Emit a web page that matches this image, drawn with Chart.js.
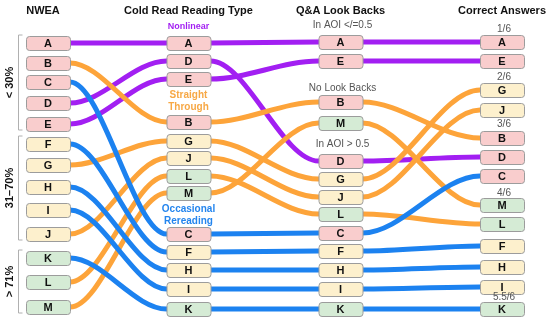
<!DOCTYPE html>
<html><head><meta charset="utf-8">
<script src="https://cdn.jsdelivr.net/npm/chart.js@4/dist/chart.umd.min.js"></script>
<style>html,body{margin:0;padding:0;background:#fff;}#c{display:block}</style>
</head><body>
<canvas id="c" width="550" height="321"></canvas>
<script>
// ---------- DATA ----------
const columns = ['NWEA', 'Cold Read Reading Type', 'Q&A Look Backs', 'Correct Answers'];
const students = ['A','B','C','D','E','F','G','H','I','J','K','L','M'];
const nweaBand = ['< 30%','< 30%','< 30%','< 30%','< 30%','31–70%','31–70%','31–70%','31–70%','31–70%','> 71%','> 71%','> 71%'];
const readingType = ['Nonlinear','Straight Through','Occasional Rereading','Nonlinear','Nonlinear','Occasional Rereading','Straight Through','Occasional Rereading','Occasional Rereading','Straight Through','Occasional Rereading','Straight Through','Straight Through'];
// vertical slot (row level) of each student in each column
const nweaRow     = [43, 63, 82,103,124,144,165,187,210,234,258,282,307];
const readingRow  = [43,122,234, 61, 79,252,141,270,289,158,309,176,193];
const lookBackRow = [42,102,233,161, 61,251,179,270,289,197,309,214,123];
const correctRow  = [42,138,176,157, 61,246, 90,267,287,110,309,224,205];
// group labels
const bandLabels = ['< 30%','31–70%','> 71%'];
const readingLabels = ['Nonlinear','Straight\nThrough','Occasional\nRereading'];
const readingLabelRow = [27, 95, 209];
const lookBackLabels = ['In AOI </=0.5','No Look Backs','In AOI > 0.5'];
const lookBackLabelRow = [25, 88, 144];
const correctLabels = ['1/6','2/6','3/6','4/6','5.5/6'];
const correctLabelRow = [29, 77, 124, 193, 297];

// ---------- STYLE / LAYOUT ----------
const colX = [48, 188.5, 340.5, 502];
const half = 22;
const typeColor = {'Nonlinear':'#a21ff2','Straight Through':'#fda43a','Occasional Rereading':'#1c82f0'};
const typeText = {'Nonlinear':'#a21ff2','Straight Through':'#f7a845','Occasional Rereading':'#2485ee'};
const bandFill = {'< 30%':'#f9cdcd','31–70%':'#fdf0cd','> 71%':'#d5ebd5'};
const rows = [nweaRow, readingRow, lookBackRow, correctRow];
const FONT = '"Liberation Sans", Arial, sans-serif';

const drawOrder = [2,5,7,8,10, 1,6,9,11,12, 0,3,4];
const datasets = drawOrder.map(i => {
  const pts = [];
  for (let c = 0; c < 4; c++) {
    if (c > 0) pts.push({x: colX[c] - half, y: rows[c][i]});
    pts.push({x: colX[c], y: rows[c][i]});
    if (c < 3) pts.push({x: colX[c] + half, y: rows[c][i]});
  }
  return {
    label: students[i], data: pts, borderColor: typeColor[readingType[i]],
    borderWidth: 5, pointRadius: 0, cubicInterpolationMode: 'monotone',
    borderCapStyle: 'butt', fill: false
  };
});

function rr(ctx, x, y, w, h, r) {
  ctx.beginPath();
  ctx.moveTo(x + r, y);
  ctx.lineTo(x + w - r, y); ctx.quadraticCurveTo(x + w, y, x + w, y + r);
  ctx.lineTo(x + w, y + h - r); ctx.quadraticCurveTo(x + w, y + h, x + w - r, y + h);
  ctx.lineTo(x + r, y + h); ctx.quadraticCurveTo(x, y + h, x, y + h - r);
  ctx.lineTo(x, y + r); ctx.quadraticCurveTo(x, y, x + r, y);
  ctx.closePath();
}

const overlay = {
  id: 'overlay',
  afterDatasetsDraw(chart) {
    const ctx = chart.ctx, xs = chart.scales.x, ys = chart.scales.y;
    ctx.save();
    // boxes
    for (let c = 0; c < 4; c++) {
      const px = xs.getPixelForValue(colX[c]);
      const pw = xs.getPixelForValue(colX[c] + half) - px;
      students.forEach((s, i) => {
        const py = ys.getPixelForValue(rows[c][i]);
        rr(ctx, px - pw + 0.5, py - 7 + 0.5, pw * 2, 14, 3);
        ctx.fillStyle = bandFill[nweaBand[i]];
        ctx.fill();
        ctx.strokeStyle = '#9c9c9c'; ctx.lineWidth = 1; ctx.stroke();
        ctx.fillStyle = '#111';
        ctx.font = 'bold 11px ' + FONT;
        ctx.textAlign = 'center'; ctx.textBaseline = 'middle';
        ctx.fillText(s, px, py + 1);
      });
    }
    // column titles
    ctx.fillStyle = '#111';
    ctx.font = 'bold 11px ' + FONT;
    ctx.textAlign = 'center'; ctx.textBaseline = 'middle';
    columns.forEach((t, c) => {
      const px = c === 0 ? xs.getPixelForValue(colX[0]) - 5 : xs.getPixelForValue(colX[c]);
      ctx.fillText(t, px, ys.getPixelForValue(11));
    });
    // NWEA brackets
    bandLabels.forEach(b => {
      const idx = students.map((s, i) => i).filter(i => nweaBand[i] === b);
      const top = ys.getPixelForValue(nweaRow[idx[0]]) - 8;
      const bot = ys.getPixelForValue(nweaRow[idx[idx.length - 1]]) + 6;
      const bx = 18.5;
      ctx.strokeStyle = '#b0b0b0'; ctx.lineWidth = 1;
      ctx.beginPath();
      ctx.moveTo(bx + 4, top); ctx.lineTo(bx, top); ctx.lineTo(bx, bot); ctx.lineTo(bx + 4, bot);
      ctx.stroke();
      ctx.save();
      ctx.translate(10, (top + bot) / 2);
      ctx.rotate(-Math.PI / 2);
      ctx.fillStyle = '#111'; ctx.font = 'bold 11px ' + FONT;
      ctx.fillText(b, 0, 0);
      ctx.restore();
    });
    // reading type labels
    const rtKeys = ['Nonlinear','Straight Through','Occasional Rereading'];
    readingLabels.forEach((t, k) => {
      const lines = t.split('\n');
      ctx.fillStyle = typeText[rtKeys[k]];
      ctx.font = (k === 0 ? 'bold 9px ' : 'bold 10px ') + FONT;
      lines.forEach((ln, j) => {
        ctx.fillText(ln, xs.getPixelForValue(colX[1]), ys.getPixelForValue(readingLabelRow[k]) + j * 12);
      });
    });
    // look back labels
    ctx.fillStyle = '#555';
    ctx.font = '10px ' + FONT;
    lookBackLabels.forEach((t, k) => {
      ctx.fillText(t, xs.getPixelForValue(colX[2]) + 2, ys.getPixelForValue(lookBackLabelRow[k]));
    });
    correctLabels.forEach((t, k) => {
      ctx.fillText(t, xs.getPixelForValue(colX[3]) + 2, ys.getPixelForValue(correctLabelRow[k]));
    });
    ctx.restore();
  }
};

new Chart(document.getElementById('c'), {
  type: 'line',
  data: { datasets },
  options: {
    responsive: false, animation: false, parsing: true,
    layout: { padding: 0 },
    plugins: { legend: { display: false }, tooltip: { enabled: false } },
    scales: {
      x: { type: 'linear', min: 0, max: 550, display: false },
      y: { type: 'linear', min: 0, max: 321, reverse: true, display: false }
    },
    elements: { line: { tension: 0.4 } }
  },
  plugins: [overlay]
});
</script>
</body></html>
